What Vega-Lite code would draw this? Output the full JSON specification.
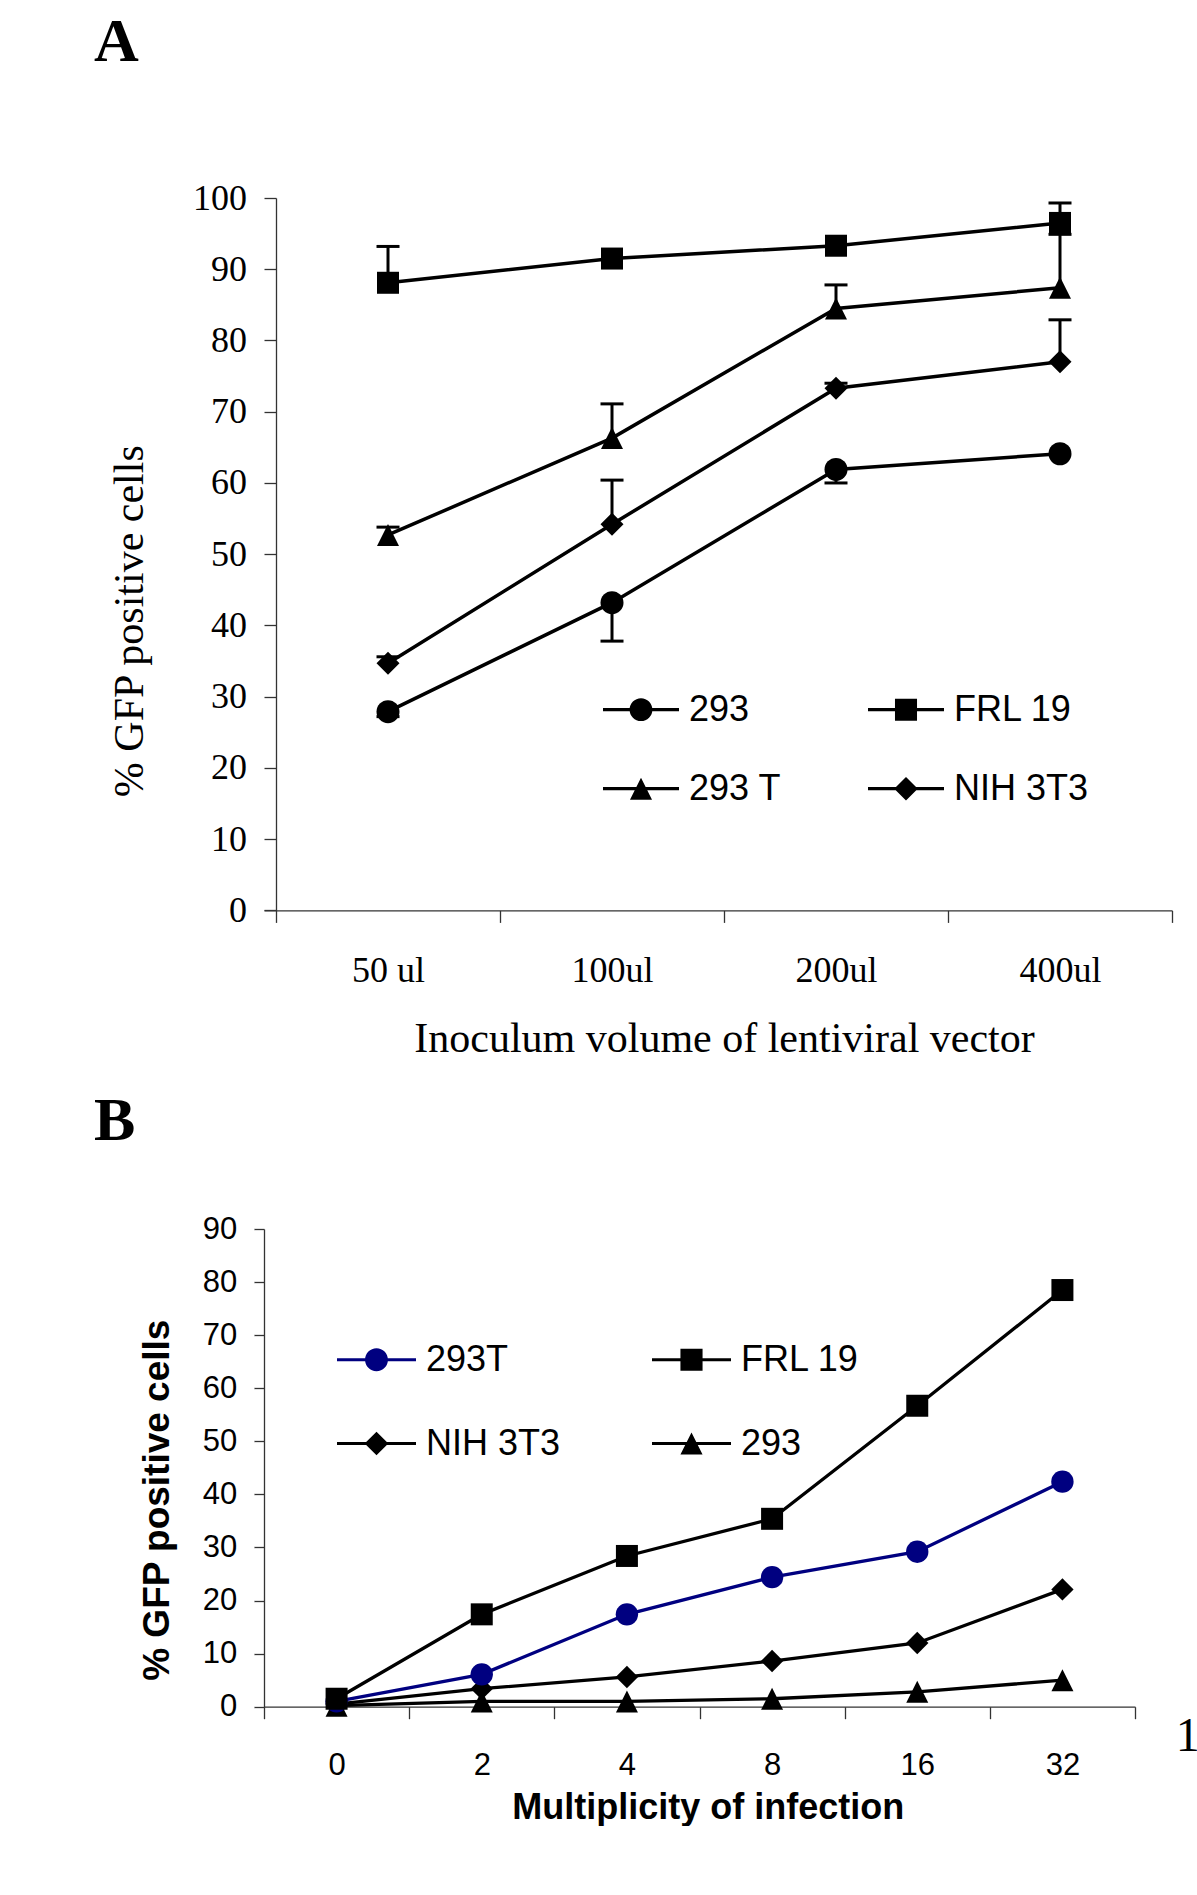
{
  "$schema": "https://vega.github.io/schema/vega-lite/v6.json",
  "background": "white",
  "padding": {"left": 94, "top": 10, "right": 0, "bottom": 0},
  "spacing": 30,
  "columns": 1,
  "align": "none",
  "bounds": "full",
  "resolve": {"scale": {"color": "independent", "shape": "independent"}, "legend": {"color": "independent", "shape": "independent"}},
  "title": {"text": "1", "orient": "bottom", "anchor": "end", "font": "Liberation Serif", "fontSize": 48, "fontWeight": "normal", "color": "black", "baseline": "alphabetic", "offset": 0, "dx": 27, "dy": -75},
  "config": {
    "view": {"stroke": null},
    "axis": {"domainColor": "#333333", "tickColor": "#333333", "domainWidth": 1.3, "tickWidth": 1.3, "grid": false, "labelColor": "black", "titleColor": "black"}
  },
  "datasets": {
    "a": [
      {"vol": "50 ul", "cell": "293", "pct": 27.9, "err": 27.2},
      {"vol": "100ul", "cell": "293", "pct": 43.2, "err": 37.8},
      {"vol": "200ul", "cell": "293", "pct": 61.9, "err": 60.0},
      {"vol": "400ul", "cell": "293", "pct": 64.1},
      {"vol": "50 ul", "cell": "FRL 19", "pct": 88.1, "err": 93.2},
      {"vol": "100ul", "cell": "FRL 19", "pct": 91.5},
      {"vol": "200ul", "cell": "FRL 19", "pct": 93.3},
      {"vol": "400ul", "cell": "FRL 19", "pct": 96.5, "err": 99.3},
      {"vol": "50 ul", "cell": "293 T", "pct": 52.7, "err": 53.8},
      {"vol": "100ul", "cell": "293 T", "pct": 66.3, "err": 71.1},
      {"vol": "200ul", "cell": "293 T", "pct": 84.5, "err": 87.8},
      {"vol": "400ul", "cell": "293 T", "pct": 87.4, "err": 94.9},
      {"vol": "50 ul", "cell": "NIH 3T3", "pct": 34.7, "err": 35.6},
      {"vol": "100ul", "cell": "NIH 3T3", "pct": 54.2, "err": 60.4},
      {"vol": "200ul", "cell": "NIH 3T3", "pct": 73.3, "err": 74.0},
      {"vol": "400ul", "cell": "NIH 3T3", "pct": 77.0, "err": 82.9}
    ],
    "b": [
      {"moi": 0, "cell": "FRL 19", "pct": 1.5},
      {"moi": 2, "cell": "FRL 19", "pct": 17.4},
      {"moi": 4, "cell": "FRL 19", "pct": 28.4},
      {"moi": 8, "cell": "FRL 19", "pct": 35.4},
      {"moi": 16, "cell": "FRL 19", "pct": 56.7},
      {"moi": 32, "cell": "FRL 19", "pct": 78.5},
      {"moi": 0, "cell": "293T", "pct": 1.0},
      {"moi": 2, "cell": "293T", "pct": 6.1},
      {"moi": 4, "cell": "293T", "pct": 17.4},
      {"moi": 8, "cell": "293T", "pct": 24.4},
      {"moi": 16, "cell": "293T", "pct": 29.2},
      {"moi": 32, "cell": "293T", "pct": 42.4},
      {"moi": 0, "cell": "NIH 3T3", "pct": 0.5},
      {"moi": 2, "cell": "NIH 3T3", "pct": 3.4},
      {"moi": 4, "cell": "NIH 3T3", "pct": 5.6},
      {"moi": 8, "cell": "NIH 3T3", "pct": 8.6},
      {"moi": 16, "cell": "NIH 3T3", "pct": 12.0},
      {"moi": 32, "cell": "NIH 3T3", "pct": 22.1},
      {"moi": 0, "cell": "293", "pct": 0.2},
      {"moi": 2, "cell": "293", "pct": 1.0},
      {"moi": 4, "cell": "293", "pct": 1.0},
      {"moi": 8, "cell": "293", "pct": 1.5},
      {"moi": 16, "cell": "293", "pct": 2.8},
      {"moi": 32, "cell": "293", "pct": 5.0}
    ]
  },
  "concat": [
    {
      "width": 908,
      "height": 712.4,
      "title": {"text": "A", "anchor": "start", "frame": "group", "orient": "top", "font": "Liberation Serif", "fontSize": 62, "fontWeight": "bold", "color": "black", "baseline": "alphabetic", "offset": 57.3, "dx": -170},
      "data": {"name": "a"},
      "encoding": {
        "x": {"field": "vol", "type": "nominal",
          "scale": {"type": "band", "domain": ["50 ul", "100ul", "200ul", "400ul"], "paddingInner": 0, "paddingOuter": 0.0268, "align": 1},
          "axis": {"title": "Inoculum volume of lentiviral vector", "titleFont": "Liberation Serif", "titleFontSize": 42, "titleFontWeight": "normal", "titleBaseline": "alphabetic", "titleAlign": "center", "titleX": 460, "titleY": 141,
            "labelFont": "Liberation Serif", "labelFontSize": 36, "labelAngle": 0, "labelBaseline": "alphabetic", "labelPadding": 59, "tickSize": 12, "tickBand": "extent"}},
        "y": {"field": "pct", "type": "quantitative",
          "scale": {"domain": [0, 100], "nice": false},
          "axis": {"offset": -12, "title": "% GFP positive cells", "titleFont": "Liberation Serif", "titleFontSize": 42, "titleFontWeight": "normal", "titleBaseline": "alphabetic", "titleAlign": "center", "titleAngle": -90, "titleX": -134, "titleY": 422.7,
            "labelFont": "Liberation Serif", "labelFontSize": 36, "labelPadding": 17.6, "tickSize": 12, "values": [0, 10, 20, 30, 40, 50, 60, 70, 80, 90, 100]}}
      },
      "layer": [
        {"transform": [{"filter": "isValid(datum.err)"}], "mark": {"type": "rule", "strokeWidth": 3, "color": "black"}, "encoding": {"y2": {"field": "err"}}},
        {"transform": [{"filter": "isValid(datum.err)"}], "mark": {"type": "tick", "thickness": 3, "size": 23, "color": "black", "opacity": 1}, "encoding": {"y": {"field": "err", "type": "quantitative", "title": "% GFP positive cells"}}},
        {"mark": {"type": "line", "strokeWidth": 3.5, "color": "black"}, "encoding": {
          "detail": {"field": "cell", "type": "nominal"},
          "order": {"value": null}}},
        {"transform": [{"filter": "datum.cell === '293'"}], "mark": {"type": "point", "filled": true, "shape": "circle", "size": 529, "color": "black", "opacity": 1, "strokeWidth": 0}},
        {"transform": [{"filter": "datum.cell === 'FRL 19'"}], "mark": {"type": "point", "filled": true, "shape": "square", "size": 484, "color": "black", "opacity": 1, "strokeWidth": 0}},
        {"transform": [{"filter": "datum.cell === '293 T'"}], "mark": {"type": "point", "filled": true, "shape": "M0,-1L1,1L-1,1Z", "size": 484, "color": "black", "opacity": 1, "strokeWidth": 0}},
        {"transform": [{"filter": "datum.cell === 'NIH 3T3'"}], "mark": {"type": "point", "filled": true, "shape": "diamond", "size": 529, "color": "black", "opacity": 1, "strokeWidth": 0}},
        {"mark": {"type": "point", "filled": true, "opacity": 0, "size": 1}, "encoding": {
          "shape": {"field": "cell", "type": "nominal",
            "scale": {"domain": ["293", "FRL 19", "293 T", "NIH 3T3"], "range": [
              "M-1,-0.042H1V0.042H-1Z M-0.3,0A0.3,0.3 0 1,1 0.3,0A0.3,0.3 0 1,1 -0.3,0Z",
              "M-1,-0.042H1V0.042H-1Z M-0.29,-0.29H0.29V0.29H-0.29Z",
              "M-1,-0.042H1V0.042H-1Z M0,-0.29L0.29,0.29H-0.29Z",
              "M-1,-0.042H1V0.042H-1Z M0,-0.31L0.31,0L0,0.31L-0.31,0Z"]},
            "legend": {"orient": "none", "legendX": 339, "legendY": 473.7, "columns": 2, "direction": "horizontal", "title": null, "padding": 0, "symbolSize": 5776, "symbolStrokeWidth": 0, "symbolStrokeColor": "transparent", "symbolOpacity": 1, "labelFont": "Liberation Sans", "labelFontSize": 36, "labelColor": "black", "labelOffset": 10, "columnPadding": 86, "rowPadding": 23, "labelLimit": 0}},
          "color": {"field": "cell", "type": "nominal",
            "scale": {"domain": ["293", "FRL 19", "293 T", "NIH 3T3"], "range": ["black", "black", "black", "black"]},
            "legend": {"orient": "none", "legendX": 339, "legendY": 473.7, "columns": 2, "direction": "horizontal", "title": null, "padding": 0, "symbolSize": 5776, "symbolStrokeWidth": 0, "symbolStrokeColor": "transparent", "symbolOpacity": 1, "labelFont": "Liberation Sans", "labelFontSize": 36, "labelColor": "black", "labelOffset": 10, "columnPadding": 86, "rowPadding": 23, "labelLimit": 0}}
        }}
      ]
    },
    {
      "width": 871,
      "height": 477.7,
      "title": {"text": "B", "anchor": "start", "frame": "group", "orient": "top", "font": "Liberation Serif", "fontSize": 62, "fontWeight": "bold", "color": "black", "baseline": "alphabetic", "offset": 11, "dx": -170},
      "data": {"name": "b"},
      "encoding": {
        "x": {"field": "moi", "type": "ordinal",
          "scale": {"type": "band", "paddingInner": 0, "paddingOuter": 0},
          "axis": {"title": "Multiplicity of infection", "titleFont": "Liberation Sans", "titleFontSize": 36, "titleFontWeight": "bold", "titleBaseline": "alphabetic", "titleAlign": "center", "titleX": 443.8, "titleY": 112,
            "labelFont": "Liberation Sans", "labelFontSize": 31, "labelAngle": 0, "labelBaseline": "alphabetic", "labelPadding": 56, "tickSize": 12, "tickBand": "extent"}},
        "y": {"field": "pct", "type": "quantitative",
          "scale": {"domain": [0, 90], "nice": false},
          "axis": {"title": "% GFP positive cells", "titleFont": "Liberation Sans", "titleFontSize": 37, "titleFontWeight": "bold", "titleBaseline": "alphabetic", "titleAlign": "center", "titleAngle": -90, "titleX": -95.7, "titleY": 270.7,
            "labelFont": "Liberation Sans", "labelFontSize": 31, "labelPadding": 17.3, "tickSize": 10, "values": [0, 10, 20, 30, 40, 50, 60, 70, 80, 90]}}
      },
      "layer": [
        {"mark": {"type": "line", "strokeWidth": 3.3}, "encoding": {
          "detail": {"field": "cell", "type": "nominal"},
          "color": {"condition": {"test": "datum.cell === '293T'", "value": "#000080"}, "value": "black"},
          "order": {"value": null}}},
        {"transform": [{"filter": "datum.cell === '293'"}], "mark": {"type": "point", "filled": true, "shape": "M0,-1L1,1L-1,1Z", "size": 484, "color": "black", "opacity": 1, "strokeWidth": 0}},
        {"transform": [{"filter": "datum.cell === 'NIH 3T3'"}], "mark": {"type": "point", "filled": true, "shape": "diamond", "size": 500, "color": "black", "opacity": 1, "strokeWidth": 0}},
        {"transform": [{"filter": "datum.cell === '293T'"}], "mark": {"type": "point", "filled": true, "shape": "circle", "size": 500, "color": "#000080", "opacity": 1, "strokeWidth": 0}},
        {"transform": [{"filter": "datum.cell === 'FRL 19'"}], "mark": {"type": "point", "filled": true, "shape": "square", "size": 484, "color": "black", "opacity": 1, "strokeWidth": 0}},
        {"mark": {"type": "point", "filled": true, "opacity": 0, "size": 1}, "encoding": {
          "shape": {"field": "cell", "type": "nominal",
            "scale": {"domain": ["293T", "FRL 19", "NIH 3T3", "293"], "range": [
              "M-1,-0.04H1V0.04H-1Z M-0.29,0A0.29,0.29 0 1,1 0.29,0A0.29,0.29 0 1,1 -0.29,0Z",
              "M-1,-0.04H1V0.04H-1Z M-0.28,-0.28H0.28V0.28H-0.28Z",
              "M-1,-0.04H1V0.04H-1Z M0,-0.3L0.3,0L0,0.3L-0.3,0Z",
              "M-1,-0.04H1V0.04H-1Z M0,-0.28L0.28,0.28H-0.28Z"]},
            "legend": {"orient": "none", "legendX": 73, "legendY": 91, "columns": 2, "direction": "horizontal", "title": null, "padding": 0, "symbolSize": 6241, "symbolStrokeWidth": 0, "symbolStrokeColor": "transparent", "symbolOpacity": 1, "labelFont": "Liberation Sans", "labelFontSize": 36, "labelColor": "black", "labelOffset": 10, "columnPadding": 91, "rowPadding": 26, "labelLimit": 0}},
          "color": {"field": "cell", "type": "nominal",
            "scale": {"domain": ["293T", "FRL 19", "NIH 3T3", "293"], "range": ["#000080", "black", "black", "black"]},
            "legend": {"orient": "none", "legendX": 73, "legendY": 91, "columns": 2, "direction": "horizontal", "title": null, "padding": 0, "symbolSize": 6241, "symbolStrokeWidth": 0, "symbolStrokeColor": "transparent", "symbolOpacity": 1, "labelFont": "Liberation Sans", "labelFontSize": 36, "labelColor": "black", "labelOffset": 10, "columnPadding": 91, "rowPadding": 26, "labelLimit": 0}}
        }}
      ]
    }
  ]
}
